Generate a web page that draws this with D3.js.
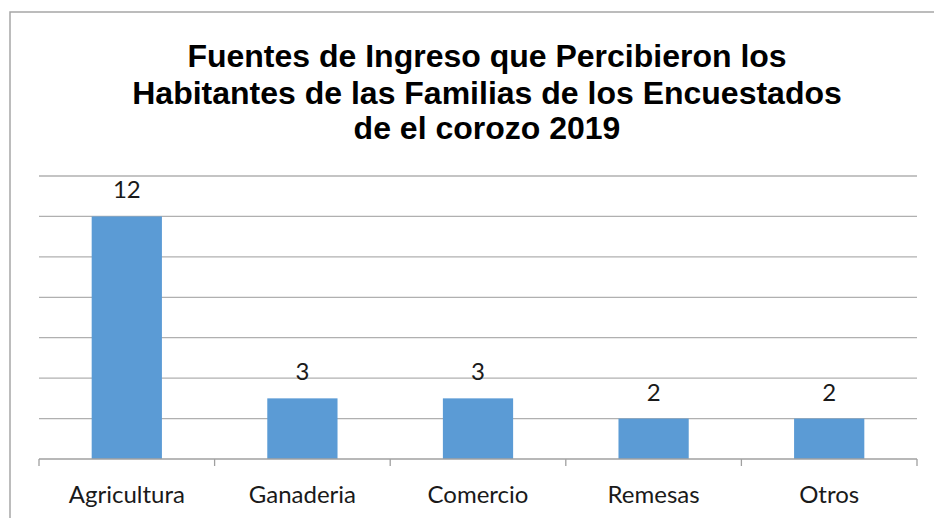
<!DOCTYPE html>
<html><head><meta charset="utf-8">
<script src="https://cdn.jsdelivr.net/npm/d3@7/dist/d3.min.js"></script>
<style>body{margin:0;background:#fff}svg{display:block}</style>
</head><body>
<svg id="c" width="934" height="518"></svg>
<script>
const categories = ["Agricultura","Ganaderia","Comercio","Remesas","Otros"];
const values = [12,3,3,2,2];
const yTicks = [0,2,4,6,8,10,12,14];
const titleLines = ["Fuentes de Ingreso que Percibieron los","Habitantes de las Familias de los Encuestados","de el corozo 2019"];

const svg = d3.select("#c");
const m = {left:39, right:917, top:176, bottom:459};

// frame
svg.append("rect").attr("x",10).attr("y",12).attr("width",1000).attr("height",1000)
  .attr("fill","none").attr("stroke","#a6a6a6").attr("stroke-width",1.5);

const x = d3.scaleBand().domain(categories).range([m.left,m.right]).paddingInner(0.6).paddingOuter(0.3);
const y = d3.scaleLinear().domain([0,14]).range([m.bottom,m.top]);

// gridlines
svg.append("g").selectAll("line").data(yTicks.filter(d=>d>0)).join("line")
  .attr("x1",m.left).attr("x2",m.right).attr("y1",d=>y(d)).attr("y2",d=>y(d))
  .attr("stroke","#b0b0b0").attr("stroke-width",1.3);

// bars
svg.append("g").selectAll("rect").data(values).join("rect")
  .attr("x",(d,i)=>x(categories[i])).attr("width",x.bandwidth())
  .attr("y",d=>y(d)).attr("height",d=>y(0)-y(d)).attr("fill","#5b9bd5");

// x axis
const step = x.step();
const bounds = d3.range(categories.length+1).map(i=>m.left + i*step);
const ax = svg.append("g");
ax.append("line").attr("x1",m.left).attr("x2",m.right).attr("y1",y(0)).attr("y2",y(0))
  .attr("stroke","#a0a0a0").attr("stroke-width",1.3);
ax.selectAll("line.t").data(bounds).join("line").attr("class","t")
  .attr("x1",d=>d).attr("x2",d=>d).attr("y1",y(0)).attr("y2",y(0)+7)
  .attr("stroke","#a0a0a0").attr("stroke-width",1.3);

const font = "Lato, 'Open Sans', sans-serif";
ax.selectAll("text").data(categories).join("text")
  .attr("transform",d=>`translate(${x(d)+x.bandwidth()/2},503)`)
  .attr("text-anchor","middle").attr("font-family",font).attr("font-size",24).attr("fill","#1a1a1a")
  .text(d=>d);

// value labels
svg.append("g").selectAll("text").data(values).join("text")
  .attr("transform",(d,i)=>`translate(${x(categories[i])+x.bandwidth()/2},${y(d)-18})`)
  .attr("text-anchor","middle").attr("font-family",font).attr("font-size",24).attr("fill","#1a1a1a")
  .text(d=>d);

// title
const tb = [66.5,103.5,139];
svg.append("g").selectAll("text").data(titleLines).join("text")
  .attr("transform",(d,i)=>`translate(487,${tb[i]})`)
  .attr("text-anchor","middle").attr("font-family","'Liberation Sans', Arial, sans-serif")
  .attr("font-weight","bold").attr("font-size",32).attr("fill","#000")
  .text(d=>d);
</script>
</body></html>
